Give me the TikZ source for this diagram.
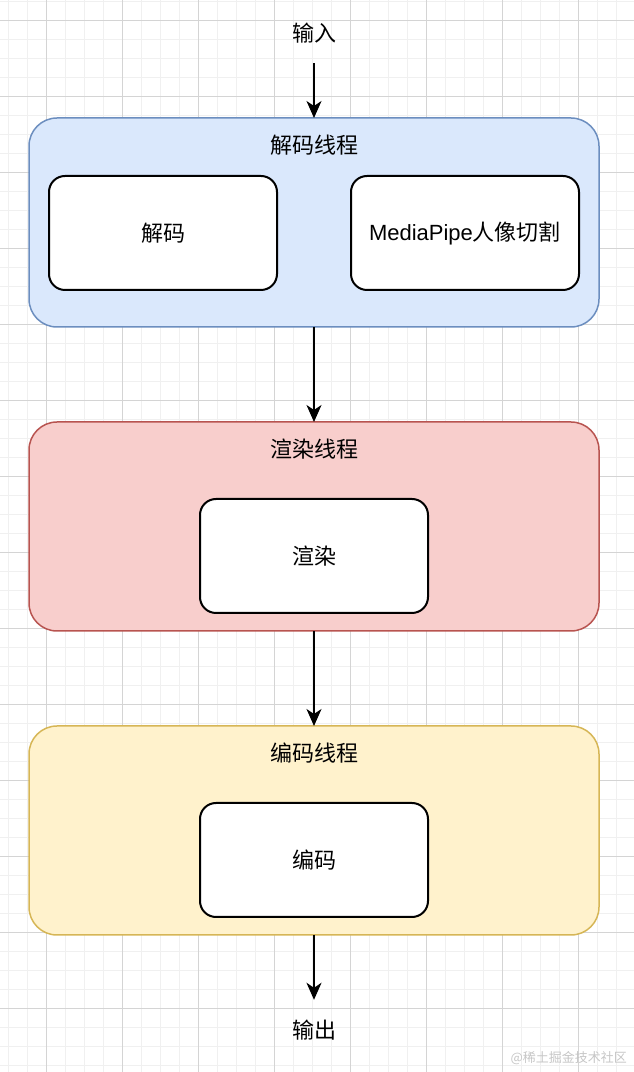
\documentclass[tikz,border=0pt]{standalone}
\usepackage{fontspec}
\setmainfont{Noto Sans CJK SC}
\newfontfamily\latinfont{Liberation Sans}
\usetikzlibrary{positioning, arrows.meta}

\definecolor{decfill}{HTML}{DAE8FC}
\definecolor{decline}{HTML}{6C8EBF}
\definecolor{renfill}{HTML}{F8CECC}
\definecolor{renline}{HTML}{B85450}
\definecolor{encfill}{HTML}{FFF2CC}
\definecolor{encline}{HTML}{D6B656}
\definecolor{gridminor}{HTML}{F0F0F0}
\definecolor{gridmajor}{HTML}{D4D4D4}

\begin{document}
\begin{tikzpicture}[
    x=1pt, y=1pt,
    node distance=95pt,
    every node/.style={
        font=\fontsize{22}{26}\selectfont,
        align=center
    },
    thread/.style={draw, rounded corners=28pt, minimum width=570pt, minimum height=209pt, line width=1.5pt, inner sep=0pt, outer sep=0pt},
    task/.style={draw=black, fill=white, rounded corners=16pt, minimum width=228pt, minimum height=114pt, line width=2pt, inner sep=0pt},
    title/.style={inner sep=0pt},
    terminal/.style={minimum height=60pt, inner sep=0pt},
    arrow/.style={-{Stealth[length=17pt, width=15pt, inset=5pt]}, line width=2pt}
]

    \useasboundingbox (0,0) rectangle (634,1072);

    % background grid
    \foreach \i in {0,...,33} \draw[gridminor, line width=1pt] ({8+19*\i},0) -- ++(0,1072);
    \foreach \i in {0,...,56} \draw[gridminor, line width=1pt] (0,{1070-19*\i}) -- ++(634,0);
    \foreach \i in {0,...,7} \draw[gridmajor, line width=1pt] ({46+76*\i},0) -- ++(0,1072);
    \foreach \i in {0,...,13} \draw[gridmajor, line width=1pt] (0,{1051-76*\i}) -- ++(634,0);

    \node (in) [terminal] at (314,1039) {输入};
    \node (dec) [thread, fill=decfill, draw=decline] at (314,849.5) {};
    \node (ren) [thread, fill=renfill, draw=renline, below=of dec] {};
    \node (enc) [thread, fill=encfill, draw=encline, below=of ren] {};
    \node (out) [terminal] at (314,42) {输出};

    \node (dec title) [title] at ([yshift=-27pt]dec.north) {解码线程};
    \node (ren title) [title] at ([yshift=-27pt]ren.north) {渲染线程};
    \node (enc title) [title] at ([yshift=-27pt]enc.north) {编码线程};

    \node (dec task) [task, below right=57pt and 19pt of dec.north west] {解码};
    \node (seg task) [task, below left=57pt and 19pt of dec.north east] {{\latinfont MediaPipe}人像切割};
    \node (ren task) [task, below=76pt of ren.north] {渲染};
    \node (enc task) [task, below=76pt of enc.north] {编码};

    \node (mark) [font=\fontsize{13}{15}\selectfont, text=gray!45, anchor=east, inner sep=0pt] at (627,14) {@稀土掘金技术社区};

    \draw[arrow] (in) -- (dec);
    \draw[arrow] (dec) -- (ren);
    \draw[arrow] (ren) -- (enc);
    \draw[arrow] (enc) -- (out);

\end{tikzpicture}
\end{document}
